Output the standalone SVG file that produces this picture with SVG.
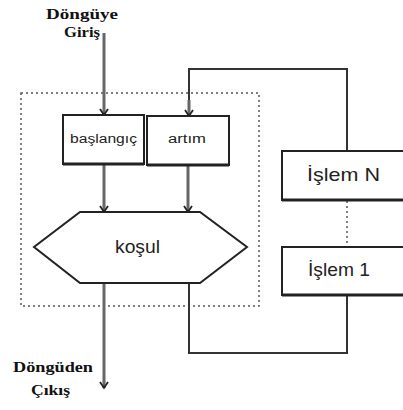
<svg xmlns="http://www.w3.org/2000/svg" width="403" height="410" viewBox="0 0 403 410">
  <style>
    .box { fill: #fff; stroke: #222; stroke-width: 2; }
    .shade { fill: none; stroke: #222; stroke-width: 3; }
    .flow { fill: none; stroke: #666; stroke-width: 3; }
    .loop { fill: none; stroke: #333; stroke-width: 2; }
    .dots { fill: none; stroke: #555; stroke-width: 1.5; stroke-dasharray: 2 3; }
    .label { font-weight: bold; font-size: 14px; fill: #111; }
    .sans { font-family: "Liberation Sans", Arial, sans-serif; fill: #222; }
  </style>
  <defs>
    <marker id="vee" markerWidth="12" markerHeight="12" refX="9" refY="6" orient="auto" markerUnits="userSpaceOnUse">
      <path d="M3,2 L9,6 L3,10" fill="none" stroke="#222" stroke-width="1.8"/>
    </marker>
  </defs>

  <rect width="403" height="410" fill="#fff"/>

  <!-- dotted loop frame -->
  <rect class="dots" x="21" y="93" width="238" height="213"/>

  <g id="connectors">
    <path class="flow" d="M104,33 V115" marker-end="url(#vee)"/>
    <path class="flow" d="M104,165 V212" marker-end="url(#vee)"/>
    <path class="flow" d="M188,165 V212" marker-end="url(#vee)"/>
    <path class="flow" d="M104,283 V388" marker-end="url(#vee)"/>
    <path class="loop" d="M189,283 V353 H347 V295"/>
    <path class="loop" d="M189,116 V69 H347 V151"/>
    <path class="flow" d="M189,100 V116" marker-end="url(#vee)"/>
    <path class="dots" d="M347,201 V247"/>
  </g>

  <g id="entry-label" font-family="Liberation Serif, Times New Roman, serif">
    <text class="label" x="46" y="19" textLength="72" lengthAdjust="spacingAndGlyphs">Döngüye</text>
    <text class="label" x="64" y="37" textLength="36" lengthAdjust="spacingAndGlyphs">Giriş</text>
  </g>

  <g id="init">
    <rect class="box" x="63" y="115" width="81" height="49"/>
    <path class="shade" d="M63,164 H144"/>
    <text class="sans" x="70" y="143" font-size="12" textLength="67" lengthAdjust="spacingAndGlyphs">başlangıç</text>
  </g>

  <g id="step">
    <rect class="box" x="147" y="116" width="82" height="49"/>
    <path class="shade" d="M147,165 H229"/>
    <text class="sans" x="168" y="143" font-size="12" textLength="38" lengthAdjust="spacingAndGlyphs">artım</text>
  </g>

  <g id="condition">
    <polygon class="box" points="80,212 200,212 247,247 200,283 80,283 34,247"/>
    <text class="sans" x="115" y="253" font-size="18" textLength="45" lengthAdjust="spacingAndGlyphs">koşul</text>
  </g>

  <g id="process-n">
    <rect class="box" x="282" y="151" width="130" height="49"/>
    <path class="shade" d="M282,200 H412"/>
    <text class="sans" x="307" y="181" font-size="19" textLength="73" lengthAdjust="spacingAndGlyphs">İşlem  N</text>
  </g>

  <g id="process-1">
    <rect class="box" x="282" y="247" width="130" height="48"/>
    <path class="shade" d="M282,295 H412"/>
    <text class="sans" x="308" y="276" font-size="19" textLength="62" lengthAdjust="spacingAndGlyphs">İşlem 1</text>
  </g>

  <g id="exit-label" font-family="Liberation Serif, Times New Roman, serif">
    <text class="label" x="13" y="372" textLength="80" lengthAdjust="spacingAndGlyphs">Döngüden</text>
    <text class="label" x="31" y="395" textLength="39" lengthAdjust="spacingAndGlyphs">Çıkış</text>
  </g>
</svg>
